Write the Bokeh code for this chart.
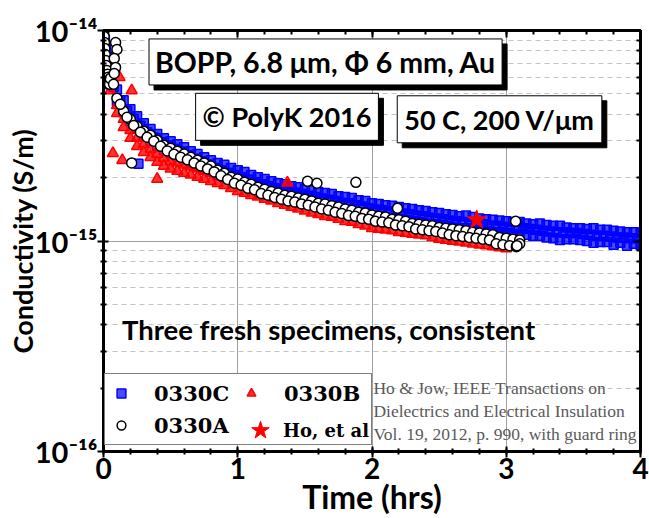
import math
from bokeh.plotting import figure
from bokeh.models import (Range1d, LogAxis, LinearAxis, FixedTicker, SingleIntervalTicker,
                          Label, Legend, LegendItem, ColumnDataSource, CustomJSTickFormatter)
from bokeh.embed import file_html
from bokeh.resources import INLINE

# ---------------- data (time in hrs, conductivity in units of 1e-15 S/m) ----------------
UNIT = 1e-15

# 0330C (blue squares): upper edge, lower edge, middle
c_upper = [(0.01, 9.06), (0.02, 8.12), (0.03, 7.53), (0.04, 6.98), (0.05, 6.32), (0.10, 5.25), (0.15, 4.66),
           (0.20, 4.22), (0.25, 3.91), (0.30, 3.63), (0.35, 3.40), (0.40, 3.22), (0.45, 3.08), (0.50, 2.98),
           (0.55, 2.88), (0.60, 2.79), (0.65, 2.67), (0.70, 2.59), (0.75, 2.50), (0.80, 2.42), (0.85, 2.35),
           (0.90, 2.30), (0.95, 2.22), (1.00, 2.17), (1.05, 2.13), (1.10, 2.06), (1.15, 2.01), (1.20, 1.97),
           (1.25, 1.92), (1.30, 1.88), (1.35, 1.86), (1.40, 1.82), (1.45, 1.80), (1.50, 1.76), (1.55, 1.74),
           (1.60, 1.71), (1.65, 1.69), (1.70, 1.67), (1.75, 1.63), (1.80, 1.62), (1.85, 1.60), (1.90, 1.56),
           (1.95, 1.55), (2.00, 1.51), (2.05, 1.50), (2.10, 1.48), (2.15, 1.47), (2.20, 1.45), (2.25, 1.43),
           (2.30, 1.42), (2.35, 1.40), (2.40, 1.39), (2.45, 1.37), (2.50, 1.36), (2.55, 1.34), (2.60, 1.33),
           (2.65, 1.31), (2.70, 1.32), (2.75, 1.30), (2.80, 1.28), (2.85, 1.27), (2.90, 1.26), (2.95, 1.25),
           (3.00, 1.24), (3.05, 1.23), (3.10, 1.23), (3.15, 1.21), (3.20, 1.20), (3.25, 1.21), (3.30, 1.19),
           (3.35, 1.18), (3.40, 1.18), (3.45, 1.16), (3.50, 1.15), (3.55, 1.15), (3.60, 1.14), (3.65, 1.15),
           (3.70, 1.13), (3.75, 1.13), (3.80, 1.12), (3.85, 1.11), (3.90, 1.10), (3.95, 1.10), (4.00, 1.09)]
c_lower = [(0.01, 7.95), (0.02, 7.13), (0.03, 6.60), (0.04, 6.12), (0.05, 5.55), (0.10, 4.61), (0.15, 4.09),
           (0.20, 3.71), (0.25, 3.43), (0.30, 3.18), (0.35, 2.98), (0.40, 2.82), (0.45, 2.70), (0.50, 2.61),
           (0.55, 2.53), (0.60, 2.45), (0.65, 2.35), (0.70, 2.27), (0.75, 2.20), (0.80, 2.13), (0.85, 2.06),
           (0.90, 2.01), (0.95, 1.95), (1.00, 1.90), (1.05, 1.86), (1.10, 1.80), (1.15, 1.76), (1.20, 1.72),
           (1.25, 1.69), (1.30, 1.65), (1.35, 1.63), (1.40, 1.60), (1.45, 1.58), (1.50, 1.55), (1.55, 1.53),
           (1.60, 1.50), (1.65, 1.48), (1.70, 1.47), (1.75, 1.43), (1.80, 1.42), (1.85, 1.40), (1.90, 1.37),
           (1.95, 1.36), (2.00, 1.33), (2.05, 1.31), (2.10, 1.30), (2.15, 1.28), (2.20, 1.27), (2.25, 1.26),
           (2.30, 1.24), (2.35, 1.23), (2.40, 1.21), (2.45, 1.20), (2.50, 1.19), (2.55, 1.18), (2.60, 1.16),
           (2.65, 1.15), (2.70, 1.15), (2.75, 1.14), (2.80, 1.13), (2.85, 1.12), (2.90, 1.10), (2.95, 1.10),
           (3.00, 1.09), (3.05, 1.08), (3.10, 1.08), (3.15, 1.07), (3.20, 1.06), (3.25, 1.06), (3.30, 1.04),
           (3.35, 1.03), (3.40, 1.01), (3.45, 1.02), (3.50, 1.02), (3.55, 1.01), (3.60, 1.00), (3.65, 0.98),
           (3.70, 0.99), (3.75, 0.99), (3.80, 0.96), (3.85, 0.98), (3.90, 0.95), (3.95, 0.97), (4.00, 0.96)]
c_middle = [(0.075, 5.40), (0.125, 4.63), (0.175, 4.15), (0.225, 3.81), (0.275, 3.53), (0.325, 3.29),
            (0.375, 3.10), (0.425, 2.95), (0.475, 2.84), (0.525, 2.74), (0.575, 2.66), (0.625, 2.56),
            (0.675, 2.46), (0.725, 2.39), (0.775, 2.31), (0.825, 2.23), (0.875, 2.17), (0.925, 2.11),
            (0.975, 2.06), (1.025, 2.01), (1.075, 1.96), (1.125, 1.90), (1.175, 1.86), (1.225, 1.82),
            (1.275, 1.78), (1.325, 1.75), (1.375, 1.72), (1.425, 1.70), (1.475, 1.67), (1.525, 1.64),
            (1.575, 1.62), (1.625, 1.59), (1.675, 1.57), (1.725, 1.55), (1.775, 1.52), (1.825, 1.51),
            (1.875, 1.48), (1.925, 1.46), (1.975, 1.43), (2.025, 1.41), (2.075, 1.40), (2.125, 1.38),
            (2.175, 1.37), (2.225, 1.35), (2.275, 1.34), (2.325, 1.32), (2.375, 1.31), (2.425, 1.29),
            (2.475, 1.28), (2.525, 1.27), (2.575, 1.25), (2.625, 1.24), (2.675, 1.23), (2.725, 1.22),
            (2.775, 1.21), (2.825, 1.20), (2.875, 1.18), (2.925, 1.18), (2.975, 1.17), (3.025, 1.16),
            (3.075, 1.15), (3.125, 1.15), (3.175, 1.14), (3.225, 1.13), (3.275, 1.12), (3.325, 1.11),
            (3.375, 1.10), (3.425, 1.10), (3.475, 1.09), (3.525, 1.09), (3.575, 1.08), (3.625, 1.07),
            (3.675, 1.06), (3.725, 1.06), (3.775, 1.05), (3.825, 1.04), (3.875, 1.04), (3.925, 1.03),
            (3.975, 1.03)]
c_outliers = [(0.26, 2.33)]

# 0330B (red triangles)
b_upper = [(0.01, 7.05), (0.02, 6.32), (0.05, 5.67), (0.10, 4.41), (0.15, 3.79), (0.20, 3.36), (0.25, 3.08),
           (0.30, 2.88), (0.35, 2.73), (0.40, 2.59), (0.45, 2.48), (0.50, 2.40), (0.55, 2.35), (0.60, 2.30),
           (0.65, 2.25), (0.70, 2.20), (0.75, 2.15), (0.80, 2.10), (0.85, 2.06), (0.90, 2.01), (0.95, 1.95),
           (1.00, 1.88), (1.05, 1.84), (1.10, 1.80), (1.15, 1.76), (1.20, 1.72), (1.25, 1.69), (1.30, 1.65),
           (1.35, 1.62), (1.40, 1.58), (1.45, 1.55), (1.50, 1.51), (1.55, 1.48), (1.60, 1.47), (1.65, 1.43),
           (1.70, 1.42), (1.75, 1.39), (1.80, 1.36), (1.85, 1.34), (1.90, 1.31), (1.95, 1.28), (2.00, 1.26),
           (2.05, 1.24), (2.10, 1.23), (2.15, 1.21), (2.20, 1.20), (2.25, 1.19), (2.30, 1.18), (2.35, 1.16),
           (2.40, 1.15), (2.45, 1.14), (2.50, 1.12), (2.55, 1.10), (2.60, 1.09), (2.65, 1.08), (2.70, 1.07),
           (2.75, 1.06), (2.80, 1.04), (2.85, 1.03), (2.90, 1.02), (2.95, 1.01), (3.00, 1.00)]
b_lower = [(0.01, 6.46), (0.02, 5.79), (0.05, 5.19), (0.10, 4.04), (0.15, 3.47), (0.20, 3.08), (0.25, 2.82),
           (0.30, 2.64), (0.35, 2.50), (0.40, 2.37), (0.45, 2.27), (0.50, 2.20), (0.55, 2.15), (0.60, 2.10),
           (0.65, 2.06), (0.70, 2.01), (0.75, 1.97), (0.80, 1.92), (0.85, 1.88), (0.90, 1.84), (0.95, 1.78),
           (1.00, 1.72), (1.05, 1.69), (1.10, 1.65), (1.15, 1.62), (1.20, 1.58), (1.25, 1.55), (1.30, 1.51),
           (1.35, 1.48), (1.40, 1.45), (1.45, 1.42), (1.50, 1.39), (1.55, 1.36), (1.60, 1.34), (1.65, 1.31),
           (1.70, 1.30), (1.75, 1.27), (1.80, 1.24), (1.85, 1.23), (1.90, 1.20), (1.95, 1.18), (2.00, 1.15),
           (2.05, 1.14), (2.10, 1.13), (2.15, 1.12), (2.20, 1.10), (2.25, 1.09), (2.30, 1.08), (2.35, 1.07),
           (2.40, 1.06), (2.45, 1.04), (2.50, 1.02), (2.55, 1.01), (2.60, 1.00), (2.65, 0.99), (2.70, 0.98),
           (2.75, 0.97), (2.80, 0.96), (2.85, 0.95), (2.90, 0.94), (2.95, 0.93), (3.00, 0.92)]
b_outliers = [(0.07, 2.61), (0.12, 5.99), (0.14, 2.42), (0.21, 5.19), (0.40, 1.97), (1.37, 1.89)]

# 0330A (black circles)
a_upper = [(0.05, 5.92), (0.10, 4.76), (0.15, 4.13), (0.20, 3.79), (0.25, 3.51), (0.30, 3.32), (0.35, 3.18),
           (0.40, 3.01), (0.45, 2.85), (0.50, 2.76), (0.55, 2.67), (0.60, 2.59), (0.65, 2.50), (0.70, 2.42),
           (0.75, 2.35), (0.80, 2.27), (0.85, 2.17), (0.90, 2.10), (0.95, 2.01), (1.00, 1.97), (1.05, 1.90),
           (1.10, 1.86), (1.15, 1.80), (1.20, 1.76), (1.25, 1.72), (1.30, 1.69), (1.35, 1.65), (1.40, 1.63),
           (1.45, 1.60), (1.50, 1.58), (1.55, 1.55), (1.60, 1.51), (1.65, 1.50), (1.70, 1.47), (1.75, 1.45),
           (1.80, 1.42), (1.85, 1.40), (1.90, 1.37), (1.95, 1.36), (2.00, 1.33), (2.05, 1.31), (2.10, 1.30),
           (2.15, 1.27), (2.20, 1.26), (2.25, 1.24), (2.30, 1.21), (2.35, 1.20), (2.40, 1.19), (2.45, 1.18),
           (2.50, 1.16), (2.55, 1.15), (2.60, 1.14), (2.65, 1.13), (2.70, 1.12), (2.75, 1.10), (2.80, 1.09),
           (2.85, 1.08), (2.90, 1.07), (2.95, 1.04), (3.00, 1.03), (3.05, 1.02), (3.10, 1.01)]
a_lower = [(0.075, 5.55), (0.125, 4.46), (0.175, 3.87), (0.225, 3.54), (0.275, 3.29), (0.325, 3.11),
           (0.375, 2.98), (0.425, 2.82), (0.475, 2.68), (0.525, 2.58), (0.575, 2.50), (0.625, 2.43),
           (0.675, 2.35), (0.725, 2.27), (0.775, 2.20), (0.825, 2.13), (0.875, 2.04), (0.925, 1.96),
           (0.975, 1.88), (1.025, 1.84), (1.075, 1.78), (1.125, 1.75), (1.175, 1.68), (1.225, 1.65),
           (1.275, 1.61), (1.325, 1.58), (1.375, 1.55), (1.425, 1.53), (1.475, 1.50), (1.525, 1.48),
           (1.575, 1.45), (1.625, 1.42), (1.675, 1.40), (1.725, 1.37), (1.775, 1.35), (1.825, 1.32),
           (1.875, 1.31), (1.925, 1.28), (1.975, 1.27), (2.025, 1.24), (2.075, 1.23), (2.125, 1.22),
           (2.175, 1.19), (2.225, 1.18), (2.275, 1.17), (2.325, 1.14), (2.375, 1.13), (2.425, 1.12),
           (2.475, 1.11), (2.525, 1.09), (2.575, 1.07), (2.625, 1.06), (2.675, 1.05), (2.725, 1.04),
           (2.775, 1.03), (2.825, 1.02), (2.875, 1.01), (2.925, 0.97), (2.975, 0.96), (3.025, 0.95),
           (3.075, 0.94)]
a_early = [(0.002, 10.2), (0.003, 9.89), (0.005, 9.36), (0.007, 8.77), (0.010, 8.21), (0.013, 7.69),
           (0.016, 7.21), (0.020, 6.82), (0.025, 6.46), (0.030, 6.19), (0.035, 5.99), (0.040, 5.79),
           (0.045, 5.55)]
a_outliers = [(0.09, 8.77), (0.10, 8.12), (0.08, 7.37), (0.09, 6.68), (0.08, 6.25), (0.21, 2.35),
              (1.52, 1.92), (1.59, 1.88), (1.88, 1.90), (2.19, 1.43), (3.07, 1.24), (3.10, 0.97), (3.08, 0.95)]

# Ho, et al (red star)
ho_point = [(2.78, 1.26)]

series_names = ["0330C", "0330B", "0330A", "Ho, et al"]
y_tick_values = [1e-16, 1e-15, 1e-14]
y_tick_labels = ["10\u207b\u00b9\u2076", "10\u207b\u00b9\u2075", "10\u207b\u00b9\u2074"]
y_minor_values = [k * 1e-16 for k in range(2, 10)] + [k * 1e-15 for k in range(2, 10)]

citation = ["Ho & Jow, IEEE Transactions on",
            "Dielectrics and Electrical Insulation",
            "Vol. 19, 2012, p. 990, with guard ring"]


def source(*groups):
    xs, ys = [], []
    for g in groups:
        for t, v in g:
            xs.append(t)
            ys.append(v * UNIT)
    return ColumnDataSource(data=dict(x=xs, y=ys))


BOLD_SANS = "Lato"

p = figure(width=649, height=518, x_range=Range1d(0, 4), y_range=Range1d(1e-16, 1e-14),
           y_axis_type="log", output_backend="svg", toolbar_location=None,
           min_border_left=103, min_border_right=9, min_border_top=30, min_border_bottom=66)
p.background_fill_color = "white"
p.border_fill_color = "white"
p.outline_line_color = "black"
p.outline_line_width = 3

yticker = FixedTicker(ticks=y_tick_values, minor_ticks=y_minor_values)
xticker = SingleIntervalTicker(interval=1, num_minor_ticks=5)

p.yaxis.ticker = yticker
p.yaxis.major_label_overrides = dict(zip(y_tick_values, y_tick_labels))
p.yaxis.major_label_text_font = "Lato, 'DejaVu Sans'"
p.yaxis.major_label_text_font_style = "bold"
p.yaxis.major_label_text_font_size = "29px"
p.yaxis.major_label_text_color = "black"
p.yaxis.major_label_standoff = 0
p.yaxis.axis_label = "Conductivity (S/m)"
p.yaxis.axis_label_text_font = BOLD_SANS
p.yaxis.axis_label_text_font_style = "bold"
p.yaxis.axis_label_text_font_size = "27px"
p.yaxis.axis_label_text_color = "black"
p.yaxis.axis_label_standoff = -7

p.xaxis.ticker = xticker
p.xaxis.major_label_text_font = BOLD_SANS
p.xaxis.major_label_text_font_style = "bold"
p.xaxis.major_label_text_font_size = "28px"
p.xaxis.major_label_text_color = "black"
p.xaxis.major_label_standoff = 0
p.xaxis.axis_label = "Time (hrs)"
p.xaxis.axis_label_text_font = BOLD_SANS
p.xaxis.axis_label_text_font_style = "bold"
p.xaxis.axis_label_text_font_size = "32px"
p.xaxis.axis_label_text_color = "black"
p.xaxis.axis_label_standoff = -5

for ax in (p.xaxis[0], p.yaxis[0]):
    ax.axis_line_width = 3
    ax.axis_line_color = "black"
    ax.major_tick_line_width = 2
    ax.minor_tick_line_width = 2
    ax.major_tick_in = 5
    ax.major_tick_out = 6
    ax.minor_tick_in = 3
    ax.minor_tick_out = 3

right_ax = LogAxis(ticker=FixedTicker(ticks=y_tick_values, minor_ticks=y_minor_values),
                   formatter=CustomJSTickFormatter(code="return ''"), major_label_text_font_size="1px",
                   axis_line_width=3, major_tick_line_width=2, minor_tick_line_width=2,
                   major_tick_in=7, major_tick_out=0, minor_tick_in=4, minor_tick_out=0,
                   major_label_standoff=0)
p.add_layout(right_ax, "right")
top_ax = LinearAxis(ticker=SingleIntervalTicker(interval=1, num_minor_ticks=5),
                    formatter=CustomJSTickFormatter(code="return ''"), major_label_text_font_size="1px",
                    axis_line_width=3, major_tick_line_width=2, minor_tick_line_width=2,
                    major_tick_in=7, major_tick_out=0, minor_tick_in=4, minor_tick_out=0,
                    major_label_standoff=0)
p.add_layout(top_ax, "above")

p.xgrid.ticker = xticker
p.xgrid.grid_line_color = "#a0a0a0"
p.xgrid.grid_line_width = 1
p.ygrid.ticker = yticker
p.ygrid.grid_line_color = "#a0a0a0"
p.ygrid.minor_grid_line_color = "#c4c4c4"
p.ygrid.minor_grid_line_dash = "5 4"
p.ygrid.minor_grid_line_width = 1

# ---------------- data marks ----------------
blue_r = p.scatter("x", "y", source=source(c_upper, c_lower, c_middle, c_outliers), marker="square",
                   size=9, fill_color="#0000ff", fill_alpha=0.7, line_color="#0000ff", line_width=1.5)
red_r = p.scatter("x", "y", source=source(b_upper, b_lower, b_outliers), marker="triangle",
                  size=11, fill_color="#ff0000", fill_alpha=0.8, line_color="#ff0000", line_width=1.5)
black_r = p.scatter("x", "y", source=source(a_early, a_upper, a_lower, a_outliers), marker="circle",
                    size=10, fill_color="white", line_color="black", line_width=1.5)
star_r = p.scatter("x", "y", source=source(ho_point), marker="star", size=20,
                   fill_color="#ff0000", line_color="#ff0000")


# ---------------- boxed notes with shadow ----------------
def boxed(x, y, text, size="27px", pad=7):
    common = dict(x=x, y=y, text=text, text_align="center", text_baseline="middle",
                  text_font=BOLD_SANS, text_font_style="bold", text_font_size=size, padding=pad,
                  border_line_width=1)
    p.add_layout(Label(x_offset=5, y_offset=-5, text_color="black", background_fill_color="black",
                       border_line_color="black", **common))
    p.add_layout(Label(text_color="black", background_fill_color="white",
                       border_line_color="black", **common))


boxed(1.654, 7.09e-15, "BOPP, 6.8 \u03bcm, \u03a6 6 mm, Au", size="28.5px", pad=6)
boxed(1.367, 3.89e-15, "\u00a9 PolyK 2016")
boxed(2.95, 3.786e-15, "50 C, 200 V/\u03bcm")

p.add_layout(Label(x=1.676, y=3.79e-16, text="Three fresh specimens, consistent", text_align="center",
                   text_baseline="middle", text_font=BOLD_SANS, text_font_style="bold",
                   text_font_size="27.5px", text_color="black"))

for line, yv in zip(citation, [2.01e-16, 1.564e-16, 1.217e-16]):
    p.add_layout(Label(x=2.011, y=yv, text=line, text_align="left", text_baseline="middle",
                       text_font="Liberation Serif", text_font_size="17.5px", text_color="#5a5a5a"))

# ---------------- legends ----------------
legA = Legend(items=[LegendItem(label=series_names[0], renderers=[blue_r]),
                     LegendItem(label=series_names[1], renderers=[red_r]),
                     LegendItem(label=series_names[2], renderers=[black_r])],
              orientation="horizontal", ncols=2, location=(1, 6),
              glyph_width=22, glyph_height=22, label_standoff=22, label_width=82, label_height=28,
              spacing=4, padding=5, margin=0,
              label_text_font="DejaVu Serif", label_text_font_style="bold", label_text_font_size="21px",
              label_text_color="black",
              border_line_color="black", border_line_width=1, background_fill_color="white",
              background_fill_alpha=1.0)
p.add_layout(legA)
legB = Legend(items=[LegendItem(label=series_names[3], renderers=[star_r])],
              location=(134, -2), glyph_width=46, glyph_height=46, label_standoff=0,
              padding=0, margin=0, label_text_font="DejaVu Serif", label_text_font_style="bold",
              label_text_font_size="18px", label_text_color="black",
              border_line_color=None, background_fill_alpha=0.0)
p.add_layout(legB)

open("out.html", "w").write(file_html(p, INLINE))
